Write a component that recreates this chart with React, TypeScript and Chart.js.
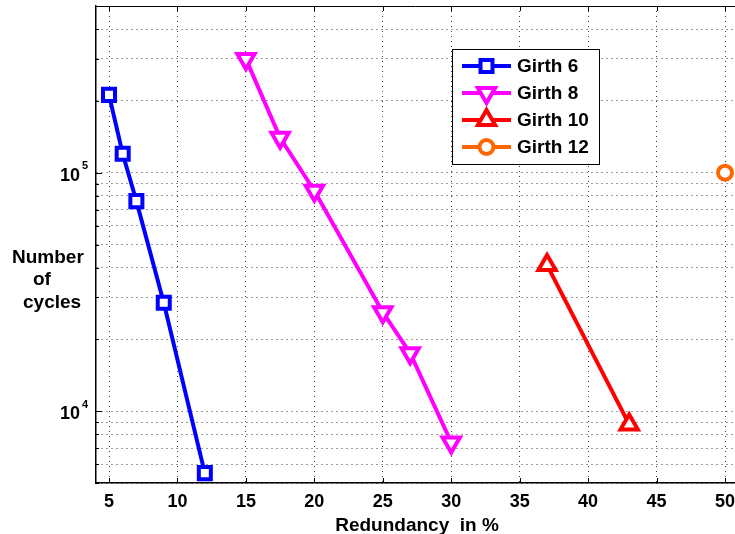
import React, { useEffect, useRef } from 'react';
import { Chart, registerables } from 'chart.js';

Chart.register(...registerables);

// ---- data ----
const girth6X = [5, 6, 7, 9, 12];
const girth6Y = [212000, 120000, 76000, 28500, 5500];
const girth8X = [15, 17.5, 20, 25, 27, 30];
const girth8Y = [300000, 140000, 84000, 26000, 17500, 7400];
const girth10X = [37, 43];
const girth10Y = [41000, 8800];
const girth12X = [50];
const girth12Y = [100000];

const seriesNames = ['Girth 6', 'Girth 8', 'Girth 10', 'Girth 12'];
const seriesColors = ['#0000ff', '#ff00ff', '#ff0000', '#ff6600'];

const xTickValues = [5, 10, 15, 20, 25, 30, 35, 40, 45, 50];
const yMajorTicks = [10000, 100000];
const yDecades = [1000, 10000, 100000];
const xLabel = 'Redundancy  in %';
const yLabelLines = ['Number', 'of', 'cycles'];

const FONT = '"Liberation Sans", Arial, Helvetica, sans-serif';
const X_MIN = 4.05;
const X_MAX = 50.73;
const Y_MIN = 5000;
const Y_MAX = 500000;

const toPoints = (xs: number[], ys: number[]) => xs.map((x, i) => ({ x, y: ys[i] }));

function drawMarker(ctx: CanvasRenderingContext2D, kind: string, x: number, y: number, color: string) {
  ctx.save();
  ctx.lineWidth = 4;
  ctx.strokeStyle = color;
  ctx.fillStyle = '#fff';
  ctx.lineJoin = 'miter';
  ctx.beginPath();
  if (kind === 'rect') {
    const h = 6;
    ctx.rect(x - h, y - h, 2 * h, 2 * h);
  } else if (kind === 'down' || kind === 'up') {
    const r = 10;
    const s = kind === 'down' ? -1 : 1;
    ctx.moveTo(x, y - s * r);
    ctx.lineTo(x + r * Math.sin((2 * Math.PI) / 3), y + s * r / 2);
    ctx.lineTo(x - r * Math.sin((2 * Math.PI) / 3), y + s * r / 2);
    ctx.closePath();
  } else {
    ctx.arc(x, y, 7, 0, Math.PI * 2);
  }
  ctx.fill();
  ctx.stroke();
  ctx.restore();
}

const decorPlugin = {
  id: 'decor',
  afterDraw(chart: any) {
    const { ctx, chartArea } = chart;
    const xs = chart.scales.x;
    const ys = chart.scales.y;
    const { left, right, top, bottom } = chartArea;
    ctx.save();
    // top frame
    ctx.strokeStyle = '#000';
    ctx.lineWidth = 1;
    ctx.beginPath();
    ctx.moveTo(left, top + 0.5);
    ctx.lineTo(right, top + 0.5);
    ctx.stroke();
    // inside ticks
    ctx.beginPath();
    xTickValues.forEach((v) => {
      const px = Math.round(xs.getPixelForValue(v)) + 0.5;
      ctx.moveTo(px, bottom);
      ctx.lineTo(px, bottom - 5);
      ctx.moveTo(px, top);
      ctx.lineTo(px, top + 5);
    });
    ys.ticks.forEach((t: any) => {
      const py = Math.round(ys.getPixelForValue(t.value)) + 0.5;
      const len = yMajorTicks.includes(t.value) ? 6 : 3;
      ctx.moveTo(left, py);
      ctx.lineTo(left + len, py);
    });
    ctx.stroke();

    // x tick labels
    ctx.fillStyle = '#000';
    ctx.font = `bold 18px ${FONT}`;
    ctx.textAlign = 'center';
    ctx.textBaseline = 'alphabetic';
    xTickValues.forEach((v) => {
      ctx.fillText(String(v), xs.getPixelForValue(v), 507);
    });
    // y tick labels 10^k
    yMajorTicks.forEach((v) => {
      const py = ys.getPixelForValue(v);
      const exp = Math.round(Math.log10(v));
      ctx.font = `bold 18px ${FONT}`;
      ctx.textAlign = 'right';
      ctx.fillText('10', 80, py + 8);
      ctx.font = `bold 11px ${FONT}`;
      ctx.textAlign = 'left';
      ctx.fillText(String(exp), 82, py - 3.5);
    });
    // axis titles
    ctx.font = `bold 19px ${FONT}`;
    ctx.textAlign = 'center';
    ctx.fillText(xLabel, 417, 531);
    ctx.textAlign = 'left';
    const yLabelX = [12, 33, 23];
    const yLabelBase = [263, 285, 308];
    yLabelLines.forEach((s, i) => ctx.fillText(s, yLabelX[i], yLabelBase[i]));

    // legend
    const bx = 452, by = 49, bw = 147, bh = 115;
    ctx.fillStyle = '#fff';
    ctx.fillRect(bx, by, bw, bh);
    ctx.strokeStyle = '#000';
    ctx.lineWidth = 1;
    ctx.strokeRect(bx + 0.5, by + 0.5, bw, bh);
    const kinds = ['rect', 'down', 'up', 'circle'];
    const rowY = [66, 93, 120, 147];
    seriesNames.forEach((name, i) => {
      const y = rowY[i];
      ctx.strokeStyle = seriesColors[i];
      ctx.lineWidth = 4;
      ctx.beginPath();
      ctx.moveTo(462, y);
      ctx.lineTo(511, y);
      ctx.stroke();
      drawMarker(ctx, kinds[i], 486.5, y, seriesColors[i]);
      ctx.fillStyle = '#000';
      ctx.font = `bold 19px ${FONT}`;
      ctx.textAlign = 'left';
      ctx.textBaseline = 'middle';
      ctx.fillText(name, 517, y + 1);
      ctx.textBaseline = 'alphabetic';
    });
    ctx.restore();
  },
};

export default function App() {
  const canvasRef = useRef<HTMLCanvasElement | null>(null);

  useEffect(() => {
    document.body.style.margin = '0';
    const canvas = canvasRef.current;
    if (!canvas) return;

    const yGridTicks: number[] = [];
    yDecades.forEach((d) => {
      for (let m = 1; m <= 9; m++) {
        const v = m * d;
        if (v >= Y_MIN && v <= Y_MAX) yGridTicks.push(v);
      }
    });

    const mk = (i: number, xs: number[], ys: number[], style: string, rot = 0, radius = 8.5) => ({
      label: seriesNames[i],
      data: toPoints(xs, ys),
      borderColor: seriesColors[i],
      backgroundColor: seriesColors[i],
      borderWidth: 4,
      showLine: true,
      tension: 0,
      pointStyle: style,
      pointRotation: rot,
      pointRadius: radius,
      pointHoverRadius: radius,
      pointBorderWidth: 4,
      pointBackgroundColor: '#fff',
      pointBorderColor: seriesColors[i],
      clip: false,
    });

    const chart = new Chart(canvas, {
      type: 'line',
      data: {
        datasets: [
          mk(0, girth6X, girth6Y, 'rect', 0, 8.5),
          mk(1, girth8X, girth8Y, 'triangle', 180, 10),
          mk(2, girth10X, girth10Y, 'triangle', 0, 10),
          mk(3, girth12X, girth12Y, 'circle', 0, 7),
        ] as any,
      },
      options: {
        responsive: false,
        animation: false,
        events: [],
        layout: { autoPadding: false, padding: { top: 6, left: 0, right: 0, bottom: 0 } },
        plugins: {
          legend: { display: false },
          tooltip: { enabled: false },
          title: { display: false },
        },
        scales: {
          x: {
            type: 'linear',
            min: X_MIN,
            max: X_MAX,
            afterBuildTicks: (s: any) => {
              s.ticks = xTickValues.map((v) => ({ value: v }));
            },
            afterFit: (s: any) => {
              s.height = 51;
            },
            ticks: { display: false },
            grid: { color: '#3a3a3a', lineWidth: 1, drawTicks: false },
            border: { display: true, color: '#000', width: 1.5, dash: [1, 4] },
          },
          y: {
            type: 'logarithmic',
            min: Y_MIN,
            max: Y_MAX,
            afterBuildTicks: (s: any) => {
              s.ticks = yGridTicks.map((v) => ({ value: v }));
            },
            afterFit: (s: any) => {
              s.width = 96;
            },
            ticks: { display: false },
            grid: { color: '#3a3a3a', lineWidth: 1, drawTicks: false },
            border: { display: true, color: '#000', width: 1.5, dash: [1, 4] },
          },
        },
      } as any,
      plugins: [decorPlugin],
    });
    return () => chart.destroy();
  }, []);

  return (
    <div style={{ width: 735, height: 534, background: '#fff' }}>
      <canvas ref={canvasRef} width={735} height={534} style={{ display: 'block' }} />
    </div>
  );
}
